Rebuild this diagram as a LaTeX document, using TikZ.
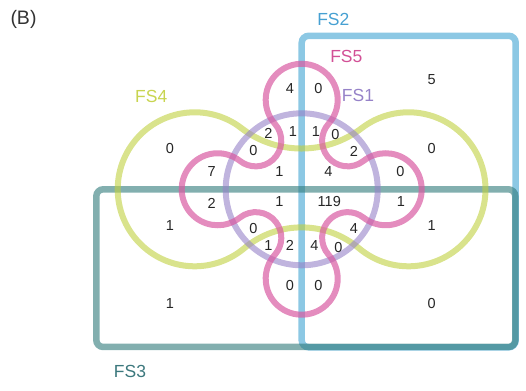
\documentclass[tikz,border=0pt]{standalone}
\usepackage{fontspec}
\setmainfont{Liberation Sans}
\usetikzlibrary{calc}
\definecolor{cFSone}{RGB}{150,130,200}
\definecolor{cFStwo}{RGB}{91,176,216}
\definecolor{cFSthree}{RGB}{47,122,122}
\definecolor{cFSfour}{RGB}{192,208,63}
\definecolor{cFSfive}{RGB}{216,91,162}
\definecolor{tFSone}{RGB}{150,130,200}
\definecolor{tFStwo}{RGB}{70,160,210}
\definecolor{tFSthree}{RGB}{60,120,125}
\definecolor{tFSfour}{RGB}{200,212,80}
\definecolor{tFSfive}{RGB}{210,80,150}
\tikzset{
  num/.style={font=\fontsize{14.5}{15}\selectfont, text=black!85, inner sep=0pt},
  setlabel/.style={font=\fontsize{17.5}{18}\selectfont, inner sep=0pt},
  fsone/.style={draw=cFSone, line width=6pt, draw opacity=0.6},
  fstwo/.style={draw=cFStwo, line width=6.5pt, draw opacity=0.7, rounded corners=7pt},
  fsthree/.style={draw=cFSthree, line width=6.5pt, draw opacity=0.6, rounded corners=7pt},
  fsfour/.style={draw=cFSfour, line width=6pt, draw opacity=0.6},
  fsfive/.style={draw=cFSfive, line width=6pt, draw opacity=0.7},
}
\begin{document}
\begin{tikzpicture}[x=1pt,y=1pt]
\useasboundingbox (0,0) rectangle (526,390);
\coordinate (C) at (301.7,200.7);
% FS2 and FS3 rectangles
\draw[fstwo] (301.7,42.7) rectangle (515.7,354.2);
\draw[fsthree] (96.3,43) rectangle (515.3,200.7);
% FS4
\draw[fsfour] ($(C)+(-107,0)+(52.6:77)$)
  arc[start angle=52.6, end angle=310, radius=77]
  arc[start angle=130, end angle=50, radius=89.3]
  arc[start angle=230, end angle=487.4, radius=77]
  arc[start angle=-52.6, end angle=-127.4, radius=99.2] -- cycle;
% FS1
\draw[fsone] (C) circle[radius=76];
% FS5
\draw[fsfive] ($(C)+(0,89.5)+(-41.7:36)$)
  arc[start angle=-41.7, end angle=221.7, radius=36]
  arc[start angle=41.7, end angle=-128.1, radius=25.6]
  arc[start angle=51.9, end angle=308.1, radius=36]
  arc[start angle=128.1, end angle=-41.7, radius=25.6]
  arc[start angle=138.3, end angle=401.7, radius=36]
  arc[start angle=221.7, end angle=51.9, radius=25.6]
  arc[start angle=231.9, end angle=488.1, radius=36]
  arc[start angle=308.1, end angle=138.3, radius=25.6] -- cycle;
% labels
\node[setlabel, text=black!80, font=\fontsize{19.5}{20}\selectfont] (lb) at (23.5,370.5) {(B)};
\node[setlabel, text=tFStwo] (l2) at (333.3,370.7) {FS2};
\node[setlabel, text=tFSfive] (l5) at (346.3,333.3) {FS5};
\node[setlabel, text=tFSone] (l1) at (358,295) {FS1};
\node[setlabel, text=tFSfour] (l4) at (151.2,293.3) {FS4};
\node[setlabel, text=tFSthree] (l3) at (130,18.3) {FS3};
% numbers
\node[num] (n1) at (290,301.7) {4};
\node[num] (n2) at (318.3,301.7) {0};
\node[num] (n3) at (431.7,310) {5};
\node[num] (n4) at (170,241.7) {0};
\node[num] (n5) at (268.3,256.5) {2};
\node[num] (n6) at (293,258.3) {1};
\node[num] (n7) at (316,258.3) {1};
\node[num] (n8) at (335.5,255.7) {0};
\node[num] (n9) at (253.3,239.3) {0};
\node[num] (n10) at (353.8,238.5) {2};
\node[num] (n11) at (431.7,241.7) {0};
\node[num] (n12) at (211.7,218) {7};
\node[num] (n13) at (279.5,218) {1};
\node[num] (n14) at (328.3,218) {4};
\node[num] (n15) at (400.5,218) {0};
\node[num] (n16) at (211.7,186.5) {2};
\node[num] (n17) at (279.3,188.3) {1};
\node[num] (n18) at (329.3,188.3) {119};
\node[num] (n19) at (401,188.3) {1};
\node[num] (n20) at (170,164) {1};
\node[num] (n21) at (253.3,161.7) {0};
\node[num] (n22) at (354,161.7) {4};
\node[num] (n23) at (431.7,164) {1};
\node[num] (n24) at (268.3,144.5) {1};
\node[num] (n25) at (290,144.5) {2};
\node[num] (n26) at (314.3,144.5) {4};
\node[num] (n27) at (338.3,142.3) {0};
\node[num] (n28) at (290,104.5) {0};
\node[num] (n29) at (318.3,104.5) {0};
\node[num] (n30) at (170,86.7) {1};
\node[num] (n31) at (431.7,86.7) {0};
\end{tikzpicture}
\end{document}
